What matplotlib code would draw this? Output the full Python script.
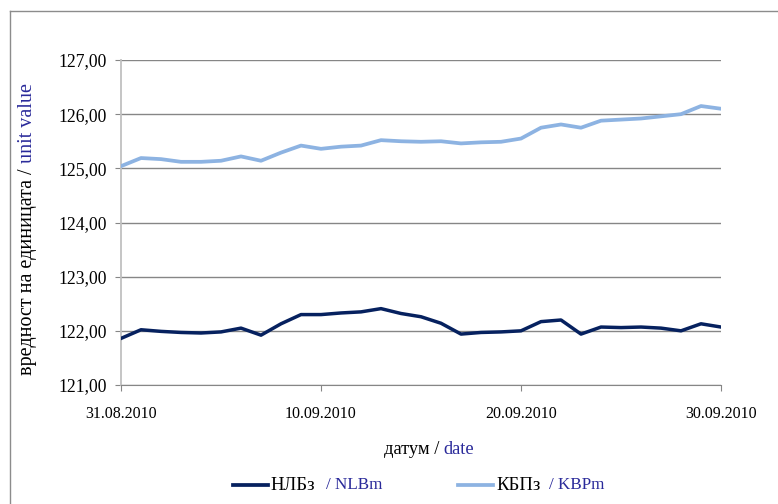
import matplotlib
matplotlib.use('Agg')
import matplotlib.pyplot as plt
import pandas as pd
from matplotlib.lines import Line2D

# ---- data ----
dates = pd.date_range('2010-08-31', '2010-09-30', freq='D')
nlb = [121.86, 122.02, 121.99, 121.97, 121.96, 121.98, 122.05, 121.92, 122.13, 122.30,
       122.30, 122.33, 122.35, 122.41, 122.32, 122.26, 122.14, 121.94, 121.97, 121.98,
       122.00, 122.17, 122.20, 121.94, 122.07, 122.06, 122.07, 122.05, 122.00, 122.13,
       122.07]
kbp = [125.04, 125.19, 125.17, 125.12, 125.12, 125.14, 125.22, 125.14, 125.29, 125.42,
       125.36, 125.40, 125.42, 125.52, 125.50, 125.49, 125.50, 125.46, 125.48, 125.49,
       125.55, 125.75, 125.81, 125.75, 125.88, 125.90, 125.92, 125.96, 126.00, 126.15,
       126.10]
y_ticks = [121, 122, 123, 124, 125, 126, 127]
x_tick_dates = ['2010-08-31', '2010-09-10', '2010-09-20', '2010-09-30']
x_tick_labels = ['31.08.2010', '10.09.2010', '20.09.2010', '30.09.2010']
series_names = [('НЛБз', '/ NLBm'), ('КБПз', '/ KBPm')]
xlabel_parts = [('датум / ', 'black'), ('date', '#2a2a9a')]
ylabel_parts = [('вредност на единицата / ', 'black'), ('unit value', '#2a2a9a')]

W, H = 778, 504
FONT = 'Liberation Serif'
BLUE = '#2a2a9a'
DARK = '#06215f'
LIGHT = '#8db3e2'

fig = plt.figure(figsize=(W / 100, H / 100), dpi=100)
ax = fig.add_axes([121 / W, 1 - 385 / H, 600 / W, 325 / H])

ax.plot(dates, kbp, color=LIGHT, lw=2.7, solid_joinstyle='round', zorder=3)
ax.plot(dates, nlb, color=DARK, lw=2.5, solid_joinstyle='round', zorder=4)

ax.set_xlim(pd.Timestamp(x_tick_dates[0]), pd.Timestamp(x_tick_dates[-1]))
ax.set_ylim(y_ticks[0], y_ticks[-1])
ax.set_yticks(y_ticks)
ax.set_yticklabels([f"{v:.2f}".replace('.', ',') for v in y_ticks],
                   fontfamily=FONT, fontsize=12.7)
ax.set_xticks([pd.Timestamp(d) for d in x_tick_dates])
ax.set_xticklabels(x_tick_labels, fontfamily=FONT, fontsize=11.5)
ax.yaxis.grid(True, color='#868686', lw=1)
ax.set_axisbelow(True)
for s in ['top', 'right']:
    ax.spines[s].set_visible(False)
ax.spines['bottom'].set_color('#868686')
ax.spines['left'].set_color('#c0c0c0')
ax.spines['left'].set_linewidth(1.3)
ax.tick_params(axis='y', length=4, color='#868686', pad=6)
ax.tick_params(axis='x', length=4, color='#868686', pad=11)

# frame of the chart area
fig.add_artist(Line2D([10 / W, 1], [1 - 11 / H] * 2, transform=fig.transFigure,
                      color='#8c8c8c', lw=1))
fig.add_artist(Line2D([10 / W] * 2, [0, 1 - 11 / H], transform=fig.transFigure,
                      color='#8c8c8c', lw=1))

renderer = fig.canvas.get_renderer()


def hpack(parts, cx, cy, size=12):
    texts = []
    total = 0
    for s, c in parts:
        t = fig.text(0, 0, s, color=c, fontfamily=FONT, fontsize=size,
                     ha='left', va='center')
        w = t.get_window_extent(renderer).width
        texts.append((t, w))
        total += w
    x = cx - total / 2
    for t, w in texts:
        t.set_position((x / W, 1 - cy / H))
        x += w


def vpack(parts, cx, cy, size=12):
    texts = []
    total = 0
    for s, c in parts:
        t = fig.text(0, 0, s, color=c, fontfamily=FONT, fontsize=size,
                     ha='center', va='bottom', rotation=90,
                     rotation_mode='default')
        h = t.get_window_extent(renderer).height
        texts.append((t, h))
        total += h
    y = cy + total / 2  # pixel from top, bottom of text
    for t, h in texts:
        t.set_position((cx / W, 1 - y / H))
        y -= h


hpack(xlabel_parts, 429, 450, size=13.3)
vpack(ylabel_parts, 28, 229, size=14.5)

# legend
leg = [(DARK, 233, 268, 270, 326), (LIGHT, 458, 493, 496, 549)]
for (col, x0, x1, tx, tx2), (bg, en) in zip(leg, series_names):
    fig.add_artist(Line2D([x0 / W, x1 / W], [1 - 485 / H] * 2,
                          transform=fig.transFigure, color=col, lw=2.7))
    fig.text(tx / W, 1 - 485 / H, bg, fontfamily=FONT, fontsize=13.5,
             ha='left', va='center', color='black')
    fig.text(tx2 / W, 1 - 485 / H, en, fontfamily=FONT, fontsize=12.3,
             ha='left', va='center', color=BLUE)

fig.savefig('out.png', dpi=100)
